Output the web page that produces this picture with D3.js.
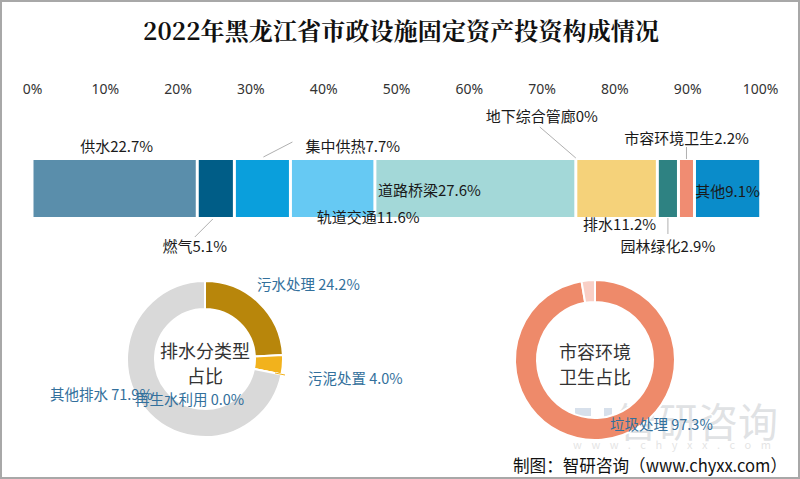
<!DOCTYPE html>
<html><head><meta charset="utf-8">
<script src="https://cdn.jsdelivr.net/npm/d3@7"></script>
<style>
html,body{margin:0;padding:0;background:#fff;}
svg{display:block;font-family:"Noto Sans CJK SC","Noto Sans",sans-serif;}
</style></head>
<body>
<svg id="c" width="800" height="479"></svg>
<script>
// ---------- data ----------
const title = "2022年黑龙江省市政设施固定资产投资构成情况";
const categories = ["供水","燃气","集中供热","轨道交通","道路桥梁","地下综合管廊","排水","园林绿化","市容环境卫生","其他"];
const shares = [22.7, 5.1, 7.7, 11.6, 27.6, 0, 11.2, 2.9, 2.2, 9.1];
const tickValues = [0,10,20,30,40,50,60,70,80,90,100];
const drainCats = ["污水处理","污泥处置","再生水利用","其他排水"];
const drainVals = [24.2, 4.0, 0.0, 71.9];
const sanitCats = ["垃圾处理","其他"];
const sanitVals = [97.3, 2.7];
const drainTitle = ["排水分类型","占比"];
const sanitTitle = ["市容环境","卫生占比"];
const footer = "制图：智研咨询（www.chyxx.com）";

// ---------- styles / layout ----------
const barColors = ["#5a8eab","#005d87","#0a9fdc","#66c9f3","#a3d8d8","#cccccc","#f5d27a","#2e8282","#f08c72","#0a8cca"];
const drainColors = ["#b8860b","#f2b21c","#e6e6e6","#d9d9d9"];
const sanitColors = ["#ee8a6a","#f9cfc6"];
const barLabelLayout = [
  {ref:"mid", dx:2,  y:145, anchor:"middle"},
  {ref:"mid", dx:-21,y:245, anchor:"middle", leader:[[-3,219],[-21,237]]},
  {ref:"mid", dx:43, y:145, anchor:"start",  leader:[[1,157],[30,142]]},
  {ref:"mid", dx:-16,y:216, anchor:"start"},
  {ref:"start",dx:3, y:189, anchor:"start"},
  {ref:"mid", dx:-34,y:115, anchor:"middle", leader:[[0,158],[-36,127]]},
  {ref:"mid", dx:3,  y:223, anchor:"middle"},
  {ref:"mid", dx:0,  y:245, anchor:"middle", leader:[[0,218],[0,234]]},
  {ref:"mid", dx:0,  y:137, anchor:"middle", leader:[[0,147],[0,159]]},
  {ref:"mid", dx:0,  y:190, anchor:"middle"}
];
const drainLayout = {cx:205, cy:359, r0:50, r1:78,
  labels:[{dx:52,dy:-76},{dx:103,dy:18},{dx:-70,dy:39},{dx:-155,dy:34}]};
const sanitLayout = {cx:595, cy:360, r0:58, r1:80, labels:[{dx:15,dy:63},null]};

const svg = d3.select("#c");
svg.append("rect").attr("x",1).attr("y",1).attr("width",798).attr("height",477)
  .attr("fill","#fff").attr("stroke","#a8a8a8").attr("stroke-width",2);

// title
svg.append("text").attr("x",401).attr("y",40).attr("text-anchor","middle")
  .attr("font-size",24).attr("font-weight","bold").attr("fill","#111")
  .attr("font-family","'Noto Serif CJK SC','Noto Sans CJK SC',serif")
  .attr("textLength",516).attr("lengthAdjust","spacing").text(title);

// ---------- bar ----------
const x = d3.scaleLinear().domain([0,100]).range([32,760]);
const axis = d3.axisTop(x).tickValues(tickValues).tickSize(0).tickFormat(d=>d+"%");
const ag = svg.append("g").attr("transform","translate(0,97)").call(axis);
ag.select(".domain").remove();
ag.selectAll("text").attr("font-size",14).attr("fill","#333")
  .attr("font-family","'Noto Sans','Open Sans',sans-serif");

let cum = 0;
const segs = shares.map((v,i)=>{const s={cat:categories[i],v,i,x0:cum,x1:cum+v}; cum+=v; return s;});
const barTop = 160, barH = 57;
svg.append("g").selectAll("rect").data(segs.filter(d=>d.v>0)).join("rect")
  .attr("x",d=>x(d.x0)+1.5).attr("width",d=>Math.max(0,x(d.x1)-x(d.x0)-3))
  .attr("y",barTop).attr("height",barH).attr("fill",d=>barColors[d.i]);

const fmt = v => v===0 ? "0" : v.toFixed(1);
const lg = svg.append("g");
segs.forEach(d=>{
  const L = barLabelLayout[d.i];
  const ref = L.ref==="start" ? x(d.x0) : (x(d.x0)+x(d.x1))/2;
  if(L.leader){
    lg.append("path").attr("d",d3.line()(L.leader.map(p=>[ref+p[0],p[1]])))
      .attr("stroke","#b0b0b0").attr("stroke-width",1).attr("fill","none");
  }
  lg.append("text").attr("x",ref+L.dx).attr("y",L.y).attr("text-anchor",L.anchor)
    .attr("dominant-baseline","central").attr("font-size",15).attr("fill","#1a1a1a")
    .text(d.cat+fmt(d.v)+"%");
});

// ---------- donuts ----------
function donut(cats, vals, colors, L, titleLines){
  const g = svg.append("g").attr("transform",`translate(${L.cx},${L.cy})`);
  const pie = d3.pie().sort(null).value(d=>d)(vals);
  const arc = d3.arc().innerRadius(L.r0).outerRadius(L.r1);
  g.selectAll("path").data(pie).join("path").attr("d",arc)
    .attr("fill",(d,i)=>colors[i]).attr("stroke","#fff").attr("stroke-width",2);
  titleLines.forEach((t,k)=>{
    g.append("text").attr("x",0).attr("y",-9+k*25).attr("text-anchor","middle")
      .attr("dominant-baseline","central").attr("font-size",18).attr("fill","#333").text(t);
  });
  return g;
}
const dg = donut(drainCats, drainVals, drainColors, drainLayout, drainTitle);
dg.append("line").attr("x1",70).attr("y1",14).attr("x2",80).attr("y2",16)
  .attr("stroke","#f2b21c").attr("stroke-width",1);
drainCats.forEach((c,i)=>{
  const p = drainLayout.labels[i];
  dg.append("text").attr("x",p.dx).attr("y",p.dy).attr("dominant-baseline","central")
    .attr("font-size",14.5).attr("fill","#33709c").text(c+" "+drainVals[i].toFixed(1)+"%");
});

// watermark
const wm = svg.append("g").attr("opacity",0.3);
wm.append("rect").attr("x",575).attr("y",408).attr("width",16).attr("height",8).attr("fill","#7d9bc0");
wm.append("rect").attr("x",583).attr("y",420).attr("width",16).attr("height",8).attr("fill","#7d9bc0");
wm.append("rect").attr("x",575).attr("y",428).attr("width",24).attr("height",8).attr("fill","#7d9bc0");
wm.append("rect").attr("x",604).attr("y",408).attr("width",8).attr("height",28).attr("fill","#7d9bc0");
wm.append("text").attr("x",618).attr("y",437).attr("font-size",40).attr("fill","#9aa0a8").text("智研咨询");
wm.append("text").attr("x",573).attr("y",444).attr("dominant-baseline","central").attr("font-size",11)
  .attr("fill","#a8a8a8").attr("textLength",198).attr("lengthAdjust","spacing").text("www.chyxx.com");

const sg = donut(sanitCats, sanitVals, sanitColors, sanitLayout, sanitTitle);
sanitCats.forEach((c,i)=>{
  const p = sanitLayout.labels[i];
  if(!p) return;
  sg.append("text").attr("x",p.dx).attr("y",p.dy).attr("dominant-baseline","central")
    .attr("font-size",14.5).attr("fill","#33709c").text(c+" "+sanitVals[i].toFixed(1)+"%");
});

// footer
svg.append("text").attr("x",513).attr("y",464).attr("dominant-baseline","central")
  .attr("font-size",17).attr("fill","#111").attr("textLength",274).attr("lengthAdjust","spacingAndGlyphs")
  .text(footer);
</script>
</body></html>
